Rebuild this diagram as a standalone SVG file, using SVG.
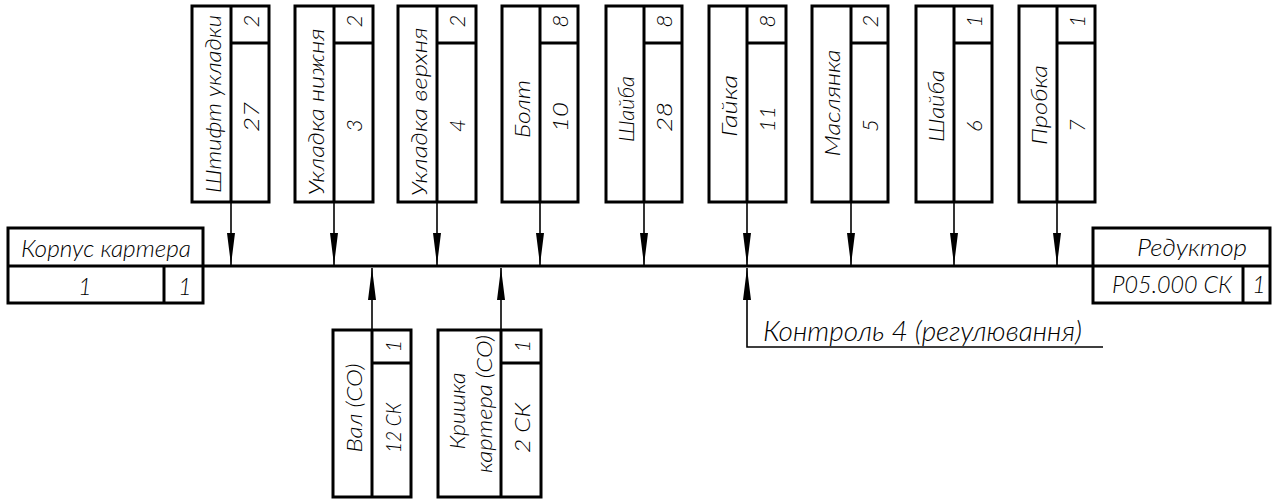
<svg xmlns="http://www.w3.org/2000/svg" width="1274" height="501" viewBox="0 0 1274 501">
<style>
.box{fill:#fff;stroke:#000;stroke-width:3}
.ln{stroke:#000;stroke-width:3;fill:none}
.con{stroke:#000;stroke-width:1.6;fill:none}
.t{font-family:"Lato","Liberation Sans","DejaVu Sans",sans-serif;font-weight:300;font-style:italic;font-size:22px;fill:#000}
.h{font-size:23px}
.r{text-anchor:middle;dominant-baseline:central}
.s{text-anchor:start;dominant-baseline:central}
.m{text-anchor:middle}
</style>
<defs>
<marker id="ah" viewBox="0 -4 32 8" refX="32" refY="0" markerWidth="32" markerHeight="8" markerUnits="userSpaceOnUse" orient="auto">
<path d="M0,-4 L32,0 L0,4 Z" fill="#000"/>
</marker>
</defs>
<rect width="1274" height="501" fill="#fff"/>

<g id="connectors">
<line class="ln" x1="8" y1="266" x2="1093" y2="266"/>
<line class="con" x1="231" y1="202" x2="231" y2="265" marker-end="url(#ah)"/>
<line class="con" x1="334" y1="202" x2="334" y2="265" marker-end="url(#ah)"/>
<line class="con" x1="437" y1="202" x2="437" y2="265" marker-end="url(#ah)"/>
<line class="con" x1="540" y1="202" x2="540" y2="265" marker-end="url(#ah)"/>
<line class="con" x1="644" y1="202" x2="644" y2="265" marker-end="url(#ah)"/>
<line class="con" x1="747" y1="202" x2="747" y2="265" marker-end="url(#ah)"/>
<line class="con" x1="851" y1="202" x2="851" y2="265" marker-end="url(#ah)"/>
<line class="con" x1="954" y1="202" x2="954" y2="265" marker-end="url(#ah)"/>
<line class="con" x1="1057" y1="202" x2="1057" y2="265" marker-end="url(#ah)"/>
<line class="con" x1="372" y1="330" x2="372" y2="268" marker-end="url(#ah)"/>
<line class="con" x1="501" y1="330" x2="501" y2="268" marker-end="url(#ah)"/>
<path class="con" d="M1103,347 H747 V268" marker-end="url(#ah)"/>
<text class="t" x="763" y="341" style="font-size:28px" textLength="319" lengthAdjust="spacingAndGlyphs">Контроль 4 (регулювання)</text>
</g>

<g id="n-korpus">
<rect class="box" x="8" y="228" width="195" height="75"/>
<line class="ln" x1="8" y1="266" x2="203" y2="266"/>
<line class="ln" x1="164" y1="266" x2="164" y2="303"/>
<text class="t h m" x="106" y="257" textLength="170" lengthAdjust="spacingAndGlyphs">Корпус картера</text>
<text class="t h m" x="85" y="295">1</text>
<text class="t h m" x="185" y="295">1</text>
</g>

<g id="n-reduktor">
<rect class="box" x="1093" y="228" width="177" height="75"/>
<line class="ln" x1="1093" y1="266" x2="1270" y2="266"/>
<line class="ln" x1="1243" y1="266" x2="1243" y2="303"/>
<text class="t h m" x="1192" y="256" textLength="110" lengthAdjust="spacingAndGlyphs">Редуктор</text>
<text class="t h m" x="1172" y="293" textLength="120" lengthAdjust="spacingAndGlyphs">Р05.000 СК</text>
<text class="t h m" x="1259" y="293">1</text>
</g>

<g id="n27">
<rect class="box" x="192" y="6" width="77" height="196"/>
<line class="ln" x1="231" y1="6" x2="231" y2="202"/><line class="ln" x1="231" y1="43" x2="269" y2="43"/>
<text class="t r" transform="translate(212,104) rotate(-90)" textLength="178" lengthAdjust="spacingAndGlyphs">Штифт укладки</text>
<text class="t r" transform="translate(250,21) rotate(-90)">2</text>
<text class="t s" transform="translate(250,132) rotate(-90)" textLength="30" lengthAdjust="spacingAndGlyphs">27</text>
</g>

<g id="n3">
<rect class="box" x="295" y="6" width="78" height="196"/>
<line class="ln" x1="334" y1="6" x2="334" y2="202"/><line class="ln" x1="334" y1="43" x2="373" y2="43"/>
<text class="t r" transform="translate(315,112) rotate(-90)" textLength="167" lengthAdjust="spacingAndGlyphs">Укладка нижня</text>
<text class="t r" transform="translate(353,21) rotate(-90)">2</text>
<text class="t s" transform="translate(353,132) rotate(-90)">3</text>
</g>

<g id="n4">
<rect class="box" x="398" y="6" width="78" height="196"/>
<line class="ln" x1="437" y1="6" x2="437" y2="202"/><line class="ln" x1="437" y1="43" x2="476" y2="43"/>
<text class="t r" transform="translate(418,112) rotate(-90)" textLength="169" lengthAdjust="spacingAndGlyphs">Укладка верхня</text>
<text class="t r" transform="translate(456,21) rotate(-90)">2</text>
<text class="t s" transform="translate(456,132) rotate(-90)">4</text>
</g>

<g id="n10">
<rect class="box" x="502" y="6" width="76" height="196"/>
<line class="ln" x1="540" y1="6" x2="540" y2="202"/><line class="ln" x1="540" y1="43" x2="578" y2="43"/>
<text class="t r" transform="translate(521,109) rotate(-90)" textLength="58" lengthAdjust="spacingAndGlyphs">Болт</text>
<text class="t r" transform="translate(559,21) rotate(-90)">8</text>
<text class="t s" transform="translate(559,132) rotate(-90)" textLength="30" lengthAdjust="spacingAndGlyphs">10</text>
</g>

<g id="n28">
<rect class="box" x="606" y="6" width="76" height="196"/>
<line class="ln" x1="644" y1="6" x2="644" y2="202"/><line class="ln" x1="644" y1="43" x2="682" y2="43"/>
<text class="t r" transform="translate(625,109) rotate(-90)" textLength="66" lengthAdjust="spacingAndGlyphs">Шайба</text>
<text class="t r" transform="translate(663,21) rotate(-90)">8</text>
<text class="t s" transform="translate(663,132) rotate(-90)" textLength="30" lengthAdjust="spacingAndGlyphs">28</text>
</g>

<g id="n11">
<rect class="box" x="709" y="6" width="77" height="196"/>
<line class="ln" x1="747" y1="6" x2="747" y2="202"/><line class="ln" x1="747" y1="43" x2="786" y2="43"/>
<text class="t r" transform="translate(728,106) rotate(-90)" textLength="62" lengthAdjust="spacingAndGlyphs">Гайка</text>
<text class="t r" transform="translate(766,21) rotate(-90)">8</text>
<text class="t s" transform="translate(766,132) rotate(-90)" textLength="26" lengthAdjust="spacingAndGlyphs">11</text>
</g>

<g id="n5">
<rect class="box" x="812" y="6" width="76" height="196"/>
<line class="ln" x1="851" y1="6" x2="851" y2="202"/><line class="ln" x1="851" y1="43" x2="888" y2="43"/>
<text class="t r" transform="translate(831,103) rotate(-90)" textLength="107" lengthAdjust="spacingAndGlyphs">Маслянка</text>
<text class="t r" transform="translate(869,21) rotate(-90)">2</text>
<text class="t s" transform="translate(869,132) rotate(-90)">5</text>
</g>

<g id="n6">
<rect class="box" x="916" y="6" width="76" height="196"/>
<line class="ln" x1="954" y1="6" x2="954" y2="202"/><line class="ln" x1="954" y1="43" x2="992" y2="43"/>
<text class="t r" transform="translate(935,106) rotate(-90)" textLength="72" lengthAdjust="spacingAndGlyphs">Шайба</text>
<text class="t r" transform="translate(973,21) rotate(-90)">1</text>
<text class="t s" transform="translate(973,132) rotate(-90)">6</text>
</g>

<g id="n7">
<rect class="box" x="1019" y="6" width="76" height="196"/>
<line class="ln" x1="1057" y1="6" x2="1057" y2="202"/><line class="ln" x1="1057" y1="43" x2="1095" y2="43"/>
<text class="t r" transform="translate(1038,105) rotate(-90)" textLength="80" lengthAdjust="spacingAndGlyphs">Пробка</text>
<text class="t r" transform="translate(1076,21) rotate(-90)">1</text>
<text class="t s" transform="translate(1076,132) rotate(-90)">7</text>
</g>

<g id="n12sk">
<rect class="box" x="333" y="330" width="78" height="167"/>
<line class="ln" x1="372" y1="330" x2="372" y2="497"/><line class="ln" x1="372" y1="363" x2="411" y2="363"/>
<text class="t r" transform="translate(353,408) rotate(-90)" textLength="89" lengthAdjust="spacingAndGlyphs">Вал (СО)</text>
<text class="t r" transform="translate(392,346) rotate(-90)">1</text>
<text class="t r" transform="translate(392,428) rotate(-90)" textLength="50" lengthAdjust="spacingAndGlyphs">12 СК</text>
</g>

<g id="n2sk">
<rect class="box" x="438" y="330" width="103" height="167"/>
<line class="ln" x1="501" y1="330" x2="501" y2="497"/><line class="ln" x1="501" y1="363" x2="541" y2="363"/>
<text class="t r" transform="translate(456,411) rotate(-90)" textLength="77" lengthAdjust="spacingAndGlyphs">Кришка</text>
<text class="t r" transform="translate(483,404) rotate(-90)" textLength="138" lengthAdjust="spacingAndGlyphs">картера (СО)</text>
<text class="t r" transform="translate(521,346) rotate(-90)">1</text>
<text class="t r" transform="translate(521,428) rotate(-90)" textLength="50" lengthAdjust="spacingAndGlyphs">2 СК</text>
</g>
</svg>
